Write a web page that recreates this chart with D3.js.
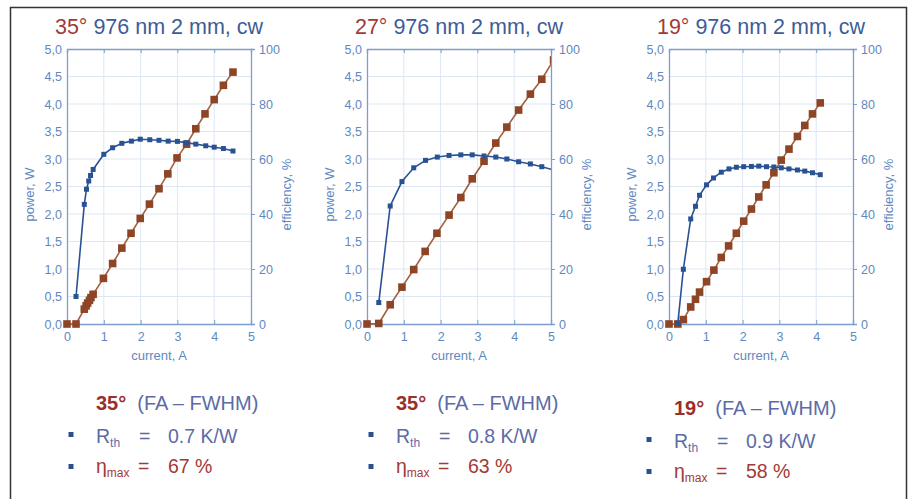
<!DOCTYPE html>
<html>
<head>
<meta charset="utf-8">
<script src="https://cdn.jsdelivr.net/npm/d3@7"></script>
<style>
  body { margin: 0; background: #fff; }
  svg { display: block; font-family: "Liberation Sans", Arial, sans-serif; }
</style>
</head>
<body>
<svg id="chart" width="914" height="499"></svg>
<script>
// ---- data ----
var titleAngles = ["35°", "27°", "19°"];
var titleRest = " 976 nm 2 mm, cw";

// power [current A, power W]
var power35 = [[0,0],[0.245,0],[0.47,0.27],[0.52,0.33],[0.56,0.38],[0.61,0.43],[0.65,0.48],[0.71,0.54],
    [0.99,0.83],[1.24,1.1],[1.49,1.38],[1.74,1.65],[1.99,1.92],[2.24,2.18],[2.5,2.46],[2.74,2.73],
    [2.99,3.02],[3.25,3.27],[3.5,3.55],[3.75,3.82],[4.0,4.08],[4.25,4.34],[4.51,4.58]];
var power27 = [[0,0],[0.32,0.01],[0.63,0.35],[0.95,0.67],[1.27,0.99],[1.58,1.32],[1.9,1.65],[2.23,1.98],
    [2.55,2.3],[2.86,2.64],[3.18,2.96],[3.5,3.29],[3.8,3.58],[4.12,3.89],[4.44,4.18],[4.75,4.45],[5.07,4.8]];
var power19 = [[0,0],[0.24,0],[0.39,0.08],[0.59,0.31],[0.72,0.45],[0.83,0.58],[1.02,0.77],[1.22,0.98],
    [1.42,1.21],[1.62,1.42],[1.83,1.65],[2.03,1.87],[2.24,2.09],[2.44,2.31],[2.64,2.53],[2.85,2.75],
    [3.05,2.98],[3.26,3.18],[3.49,3.41],[3.69,3.61],[3.9,3.82],[4.11,4.02]];

// efficiency [current A, efficiency %]
var eff35 = [[0.245,10],[0.47,43.5],[0.53,49],[0.59,52],[0.64,54],[0.71,56.2],[1.0,61.7],[1.24,64.1],
    [1.49,65.7],[1.75,66.5],[1.99,67.2],[2.25,67],[2.5,66.8],[2.75,66.5],[3.0,66.4],[3.25,65.9],
    [3.5,65.4],[3.77,64.8],[4.0,64.3],[4.25,63.8],[4.51,62.9]];
var eff27 = [[0.32,7.8],[0.63,42.9],[0.95,51.8],[1.27,56.8],[1.59,59.5],[1.91,60.7],[2.23,61.3],
    [2.55,61.5],[2.86,61.5],[3.18,61.1],[3.5,60.7],[3.8,60],[4.12,59],[4.44,58.2],[4.75,57.2],[5.07,56]];
var eff19 = [[0.24,0.3],[0.39,19.9],[0.59,38.2],[0.72,42.8],[0.83,46.8],[1.02,50.6],[1.21,53.1],
    [1.42,55.2],[1.63,56.4],[1.83,57],[2.03,57.2],[2.24,57.3],[2.44,57.4],[2.65,57.2],[2.85,57.1],
    [3.05,56.8],[3.26,56.4],[3.49,56],[3.69,55.6],[3.9,55],[4.11,54.3]];

var powerTicks = [0,0.5,1,1.5,2,2.5,3,3.5,4,4.5,5];
var effTicks = [0,20,40,60,80,100];
var currentTicks = [0,1,2,3,4,5];

var faAngles = ["35°", "35°", "19°"];
var rthValues = ["0.7 K/W", "0.8 K/W", "0.9 K/W"];
var etaValues = ["67 %", "63 %", "58 %"];

var powerSets = [power35, power27, power19];
var effSets = [eff35, eff27, eff19];

// ---- layout ----
var svg = d3.select("#chart");
var plotW = 184, plotH = 275, plotTop = 49;
var plotLeft = [67, 367, 669];
var noteX = [71, 371, 649];
var noteY = [0, 0, 5];

var axisCol = "#7d9dcc", tickCol = "#6088c0", gridCol = "#dde7f3";
var redCol = "#a23a35", blueCol = "#3d5c97", noteBlue = "#5c6ba6";
var brown = "#8d4526", brownLine = "#a2603e", effCol = "#285293";

// frame
svg.append("line").attr("x1", 10.5).attr("x2", 10.5).attr("y1", 7).attr("y2", 499)
    .attr("stroke", "#333").attr("stroke-width", 1.5);
svg.append("line").attr("x1", 10).attr("x2", 907).attr("y1", 7.5).attr("y2", 7.5)
    .attr("stroke", "#333").attr("stroke-width", 1.5);
svg.append("line").attr("x1", 906.5).attr("x2", 906.5).attr("y1", 7).attr("y2", 499)
    .attr("stroke", "#333").attr("stroke-width", 1.5);

var x = d3.scaleLinear().domain([0, 5]).range([0, plotW]);
var yP = d3.scaleLinear().domain([0, 5]).range([plotH, 0]);
var yE = d3.scaleLinear().domain([0, 100]).range([plotH, 0]);
var commaFmt = function(d) { return d3.format(".1f")(d).replace(".", ","); };

function drawPanel(p) {
    var g = svg.append("g").attr("transform", "translate(" + plotLeft[p] + "," + plotTop + ")");

    // title
    var t = g.append("text").attr("x", plotW / 2).attr("y", -15)
        .attr("text-anchor", "middle").style("font-size", "21.5px");
    t.append("tspan").attr("fill", redCol).text(titleAngles[p]);
    t.append("tspan").attr("fill", blueCol).text(titleRest);

    // grid
    g.append("g").selectAll("line").data(powerTicks.slice(1, -1)).enter().append("line")
        .attr("x1", 0).attr("x2", plotW)
        .attr("y1", function(d) { return yP(d); }).attr("y2", function(d) { return yP(d); })
        .attr("stroke", gridCol).attr("stroke-width", 1);
    g.append("g").selectAll("line").data(currentTicks.slice(1, -1)).enter().append("line")
        .attr("y1", 0).attr("y2", plotH)
        .attr("x1", function(d) { return x(d); }).attr("x2", function(d) { return x(d); })
        .attr("stroke", gridCol).attr("stroke-width", 1);

    // axes
    var axLeft = g.append("g")
        .call(d3.axisLeft(yP).tickValues(powerTicks).tickFormat(commaFmt).tickSize(0).tickPadding(5));
    var axRight = g.append("g").attr("transform", "translate(" + plotW + ",0)")
        .call(d3.axisRight(yE).tickValues(effTicks).tickSize(4).tickPadding(4));
    var axBottom = g.append("g").attr("transform", "translate(0," + plotH + ")")
        .call(d3.axisBottom(x).tickValues(currentTicks).tickFormat(d3.format("d")).tickSize(-4).tickPadding(8));
    var axTop = g.append("g")
        .call(d3.axisTop(x).tickValues(currentTicks).tickSize(-4).tickFormat(""));
    [axLeft, axRight, axBottom, axTop].forEach(function(a) {
        a.select(".domain").attr("stroke", axisCol).attr("stroke-width", 1.3);
        a.selectAll(".tick line").attr("stroke", axisCol);
        a.selectAll("text").attr("fill", tickCol).style("font-size", "12.5px");
    });
    axRight.selectAll(".tick").filter(function(d) { return d === 0 || d === 100; }).select("line").remove();

    // axis titles
    g.append("text").attr("x", plotW / 2).attr("y", plotH + 36).attr("text-anchor", "middle")
        .attr("fill", tickCol).style("font-size", "13px").text("current, A");
    g.append("text").attr("transform", "translate(-33," + (plotH / 2 + 8) + ") rotate(-90)")
        .attr("text-anchor", "middle").attr("fill", tickCol).style("font-size", "13px").text("power, W");
    g.append("text").attr("transform", "translate(" + (plotW + 40) + "," + (plotH / 2 + 8) + ") rotate(-90)")
        .attr("text-anchor", "middle").attr("fill", tickCol).style("font-size", "13px").text("efficiency, %");

    // clip
    g.append("clipPath").attr("id", "clip" + p).append("rect")
        .attr("x", -6).attr("y", -6).attr("width", plotW + 6).attr("height", plotH + 12);
    var plot = g.append("g").attr("clip-path", "url(#clip" + p + ")");

    // power series
    plot.append("path").datum(powerSets[p])
        .attr("d", d3.line().x(function(d) { return x(d[0]); }).y(function(d) { return yP(d[1]); }))
        .attr("fill", "none").attr("stroke", brownLine).attr("stroke-width", 1.6);
    plot.append("g").selectAll("rect").data(powerSets[p]).enter().append("rect")
        .attr("x", function(d) { return x(d[0]) - 3.8; })
        .attr("y", function(d) { return yP(d[1]) - 3.8; })
        .attr("width", 7.6).attr("height", 7.6).attr("fill", brown);

    // efficiency series
    plot.append("path").datum(effSets[p])
        .attr("d", d3.line().x(function(d) { return x(d[0]); }).y(function(d) { return yE(d[1]); }))
        .attr("fill", "none").attr("stroke", effCol).attr("stroke-width", 1.6);
    plot.append("g").selectAll("rect").data(effSets[p]).enter().append("rect")
        .attr("x", function(d) { return x(d[0]) - 2.5; })
        .attr("y", function(d) { return yE(d[1]) - 2.5; })
        .attr("width", 5).attr("height", 5).attr("fill", effCol);

    // notes under the plot
    var n = svg.append("g").attr("transform", "translate(" + noteX[p] + "," + noteY[p] + ")");
    var l1 = n.append("text").attr("x", 25).attr("y", 410).style("font-size", "20px");
    l1.append("tspan").attr("fill", "#9a2f2c").attr("font-weight", "bold").text(faAngles[p]);
    l1.append("tspan").attr("fill", noteBlue).attr("dx", 11).text("(FA – FWHM)");

    n.append("rect").attr("x", -2.5).attr("y", 432).attr("width", 5).attr("height", 5).attr("fill", "#2c4f8e");
    n.append("rect").attr("x", -2.5).attr("y", 464).attr("width", 5).attr("height", 5).attr("fill", "#2c4f8e");

    var l2 = n.append("text").attr("y", 443).style("font-size", "19.5px").attr("fill", noteBlue);
    l2.append("tspan").attr("x", 25).text("R");
    l2.append("tspan").attr("dy", 4).style("font-size", "12px").text("th");
    l2.append("tspan").attr("x", 68).attr("dy", -4).text("=");
    l2.append("tspan").attr("x", 97).text(rthValues[p]);

    var l3 = n.append("text").attr("y", 473).style("font-size", "19.5px").attr("fill", redCol);
    l3.append("tspan").attr("x", 25).text("η");
    l3.append("tspan").attr("dy", 4).style("font-size", "12px").text("max");
    l3.append("tspan").attr("x", 67).attr("dy", -4).text("=");
    l3.append("tspan").attr("x", 97).text(etaValues[p]);
}

for (var p = 0; p < 3; p++) drawPanel(p);
</script>
</body>
</html>
